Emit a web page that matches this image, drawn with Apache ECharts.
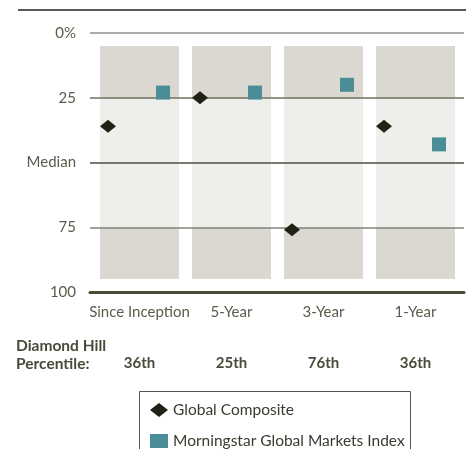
<!DOCTYPE html>
<html>
<head>
<meta charset="utf-8">
<script src="https://cdn.jsdelivr.net/npm/echarts@6/dist/echarts.min.js"></script>
<style>
html,body{margin:0;padding:0;background:#fff;}
#chart{width:466px;height:449px;}
</style>
</head>
<body>
<div id="chart"></div>
<script>
const categories = ['Since Inception', '5-Year', '3-Year', '1-Year'];
const globalComposite = [36, 25, 76, 36];
const morningstarIndex = [23, 23, 20, 43];
const percentileLabels = ['36th', '25th', '76th', '36th'];
const yTickValues = [0, 25, 50, 75, 100];
const yTickLabels = ['0%', '25', 'Median', '75', '100'];
const bandBreaks = [5, 25, 75, 95];

const FONT = 'Lato';
const TXT = '#5b5b4c';
const fill = v => categories.map(() => v);

const chart = echarts.init(document.getElementById('chart'), null, {renderer: 'canvas'});
chart.setOption({
  animation: false,
  textStyle: {fontFamily: FONT},
  grid: [
    {left: 90, right: 2, top: 33, bottom: 157},
    {left: 93.5, right: 4.5, top: 33, bottom: 157}
  ],
  xAxis: [
    {gridIndex: 0, type: 'category', data: categories, position: 'bottom', z: 4,
     axisTick: {show: false}, axisLabel: {show: false}, splitLine: {show: false},
     axisLine: {show: true, onZero: false, lineStyle: {color: '#4a4a38', width: 3}}},
    {gridIndex: 1, type: 'category', data: categories, axisTick: {show: false}, axisLine: {show: false},
     axisLabel: {interval: 0, fontFamily: FONT, fontSize: 15, color: TXT, margin: 13}},
    {gridIndex: 1, type: 'category', data: percentileLabels, position: 'bottom', offset: 64,
     axisTick: {show: false}, axisLine: {show: false},
     axisLabel: {interval: 0, fontFamily: FONT, fontSize: 15, fontWeight: 'bold', color: '#4a4a3a', margin: 0}}
  ],
  yAxis: [
    {gridIndex: 0, type: 'value', min: 0, max: 100, interval: 25, inverse: true, z: 3,
     axisLine: {show: false}, axisTick: {show: false},
     axisLabel: {fontFamily: FONT, fontSize: 15, color: TXT, margin: 14,
       formatter: v => yTickLabels[yTickValues.indexOf(v)]},
     splitLine: {show: true, lineStyle: {color: ['#8f8f87', '#6f6f62', '#4e4e40', '#85857b', '#4a4a38'], width: 1.5}}},
    {gridIndex: 1, type: 'value', min: 0, max: 100, inverse: true, show: false, splitLine: {show: false}}
  ],
  legend: {
    orient: 'vertical', left: 150, top: 402, height: 60, padding: 0,
    itemWidth: 18, itemHeight: 14, itemGap: 15,
    textStyle: {fontFamily: FONT, fontSize: 15.5, color: '#3a3a2e'},
    data: [
      {name: 'Global Composite', icon: 'diamond'},
      {name: 'Morningstar Global Markets Index', icon: 'rect'}
    ]
  },
  graphic: [
    {type: 'line', shape: {x1: 18, y1: 10, x2: 466, y2: 10}, style: {stroke: '#222', lineWidth: 1.5}},
    {type: 'text', left: 16, top: 337, style: {text: 'Diamond Hill\nPercentile:', fontFamily: FONT, fontSize: 15.5, fontWeight: 'bold', fill: '#4a4a3a', lineHeight: 18}},
    {type: 'rect', shape: {x: 139.5, y: 391.5, width: 271, height: 80}, style: {fill: 'none', stroke: '#55554a', lineWidth: 1}}
  ],
  series: [
    {type: 'bar', xAxisIndex: 1, yAxisIndex: 1, stack: 'band', barWidth: 79, silent: true, z: 1,
     itemStyle: {color: 'transparent'}, data: fill(bandBreaks[0])},
    {type: 'bar', xAxisIndex: 1, yAxisIndex: 1, stack: 'band', barWidth: 79, silent: true, z: 1,
     itemStyle: {color: '#dbd8d2'}, data: fill(bandBreaks[1] - bandBreaks[0])},
    {type: 'bar', xAxisIndex: 1, yAxisIndex: 1, stack: 'band', barWidth: 79, silent: true, z: 1,
     itemStyle: {color: '#eeeeea'}, data: fill(bandBreaks[2] - bandBreaks[1])},
    {type: 'bar', xAxisIndex: 1, yAxisIndex: 1, stack: 'band', barWidth: 79, silent: true, z: 1,
     itemStyle: {color: '#dbd8d2'}, data: fill(bandBreaks[3] - bandBreaks[2])},
    {name: 'Global Composite', type: 'scatter', xAxisIndex: 1, yAxisIndex: 1, symbol: 'diamond',
     symbolSize: [16, 13], symbolOffset: [-31.5, 0], itemStyle: {color: '#1f2313', opacity: 1}, z: 5, data: globalComposite},
    {name: 'Morningstar Global Markets Index', type: 'scatter', xAxisIndex: 1, yAxisIndex: 1, symbol: 'rect',
     symbolSize: 14, symbolOffset: [23.5, 0], itemStyle: {color: '#4a8d96', opacity: 1}, z: 5, data: morningstarIndex}
  ]
});
</script>
</body>
</html>
